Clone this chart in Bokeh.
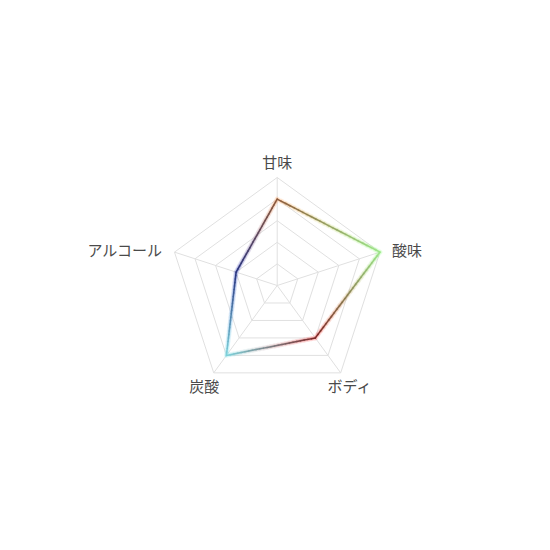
import numpy as np
from bokeh.plotting import figure
from bokeh.models import Range1d, ColumnDataSource
from bokeh.core.properties import value
from bokeh.embed import file_html
from bokeh.resources import INLINE

# ---- data ----
categories = ["甘味", "酸味", "ボディ", "炭酸", "アルコール"]
scores = [4, 5, 3, 4, 2]
levels = [1, 2, 3, 4, 5]
max_score = 5

# per-vertex line colours (core / glow)
core_colors = ["#8c5a3c", "#9ee68a", "#7a2626", "#7fd3dc", "#28347e"]
glow_colors = ["#ff9a50", "#80ff70", "#ff3030", "#70e8f0", "#3040c0"]
label_align = ["center", "left", "center", "center", "right"]
label_base = ["middle", "middle", "middle", "middle", "middle"]

W = H = 534
scale = 21.6  # px per unit
cx_px, cy_px = 276.7, 285.0
x0 = -cx_px / scale
y0 = -(H - cy_px) / scale

p = figure(width=W, height=H, output_backend="svg", toolbar_location=None,
           x_range=Range1d(x0, x0 + W / scale), y_range=Range1d(y0, y0 + H / scale),
           min_border=0, outline_line_color=None)
p.axis.visible = False
p.grid.visible = False
p.background_fill_color = "white"

n = len(categories)
ang = np.pi / 2 - 2 * np.pi * np.arange(n) / n
ux, uy = np.cos(ang), np.sin(ang)

# grid pentagons
grid_color = "#e0e0e0"
gx = [list(np.append(ux * l, ux[0] * l)) for l in levels]
gy = [list(np.append(uy * l, uy[0] * l)) for l in levels]
p.multi_line(gx, gy, line_color=grid_color, line_width=1)
# spokes
p.multi_line([[0, ux[i] * max_score] for i in range(n)],
             [[0, uy[i] * max_score] for i in range(n)],
             line_color=grid_color, line_width=1)

# data polygon with gradient
sx = np.array(scores, float) * ux
sy = np.array(scores, float) * uy


def hex2rgb(h):
    return np.array([int(h[i:i + 2], 16) for i in (1, 3, 5)], float)


def rgb2hex(c):
    c = np.clip(np.round(c), 0, 255).astype(int)
    return "#%02x%02x%02x" % tuple(c)


steps = 24
xs, ys, cc, gc = [], [], [], []
for i in range(n):
    j = (i + 1) % n
    for k in range(steps):
        t0, t1 = k / steps, (k + 1) / steps
        tm = (t0 + t1) / 2
        xs.append([sx[i] + (sx[j] - sx[i]) * t0, sx[i] + (sx[j] - sx[i]) * t1])
        ys.append([sy[i] + (sy[j] - sy[i]) * t0, sy[i] + (sy[j] - sy[i]) * t1])
        cc.append(rgb2hex(hex2rgb(core_colors[i]) * (1 - tm) + hex2rgb(core_colors[j]) * tm))
        gc.append(rgb2hex(hex2rgb(glow_colors[i]) * (1 - tm) + hex2rgb(glow_colors[j]) * tm))

src = ColumnDataSource(dict(xs=xs, ys=ys, cc=cc, gc=gc))
p.multi_line("xs", "ys", source=src, line_color="gc", line_width=5, line_alpha=0.10, line_cap="round")
p.multi_line("xs", "ys", source=src, line_color="gc", line_width=3, line_alpha=0.15, line_cap="round")
p.multi_line("xs", "ys", source=src, line_color="cc", line_width=1.5, line_cap="round")

# labels
lx, ly = [], []
for i in range(n):
    if label_align[i] == "center":
        pad = 16 / scale
        r = max_score + pad
        lx.append(ux[i] * r)
        ly.append(uy[i] * r)
    else:
        pad = 12 / scale
        lx.append(ux[i] * max_score + np.sign(ux[i]) * pad)
        ly.append(uy[i] * max_score + 3 / scale)

p.text(x=lx, y=ly, text=categories, text_align=label_align, text_baseline=label_base,
       text_font=value("Noto Sans CJK JP"), text_font_size="15px", text_color="#4a4a4a")

open("out.html", "w").write(file_html(p, INLINE))
